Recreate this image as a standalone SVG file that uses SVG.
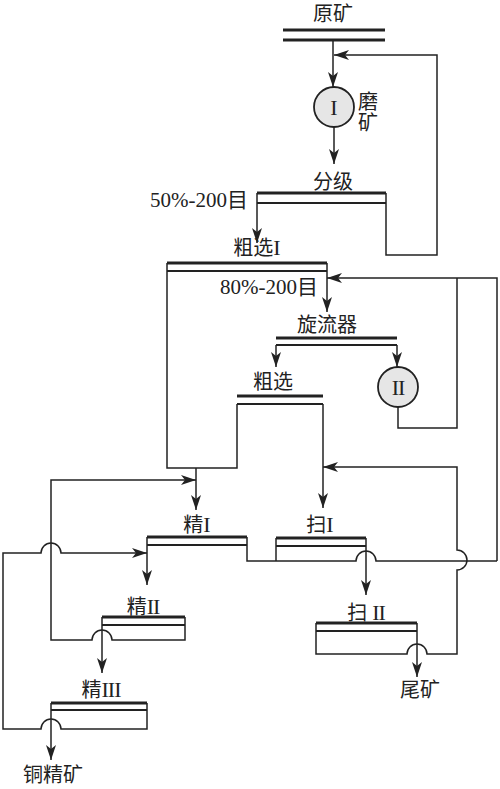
<svg xmlns="http://www.w3.org/2000/svg" width="500" height="789" viewBox="0 0 500 789">
<style>
text{font-family:"Liberation Serif","Noto Sans CJK SC",serif;font-size:20px;fill:#222;text-anchor:middle}
.big{font-size:22px}
.ln{fill:none;stroke:#222;stroke-width:1.5}
.thick{fill:none;stroke:#222;stroke-width:3}
.sec{fill:none;stroke:#222;stroke-width:1.8}
.circ{fill:#e6e6e6;stroke:#222;stroke-width:1.8}
.ar{marker-end:url(#ah)}
</style>
<defs>
<marker id="ah" markerUnits="userSpaceOnUse" markerWidth="15" markerHeight="10" refX="15" refY="5" orient="auto">
<path d="M0,0 L15,5 L0,10 L4,5 z" fill="#222"/>
</marker>
</defs>
<rect width="500" height="789" fill="#fff"/>

<g id="feed">
<text x="333" y="21">原矿</text>
<line class="thick" x1="283" y1="30" x2="385" y2="30"/>
<line class="thick" x1="283" y1="40" x2="385" y2="40"/>
</g>

<g id="mill1">
<circle class="circ" cx="334" cy="107" r="20"/>
<text class="big" x="334" y="115">I</text>
<text x="368" y="109">磨</text>
<text x="368" y="130">矿</text>
</g>

<g id="classifier">
<text x="333" y="189">分级</text>
<line class="thick" x1="257" y1="193" x2="386" y2="193"/>
<line class="sec" x1="257" y1="203" x2="386" y2="203"/>
<line class="ln" x1="257" y1="193" x2="257" y2="203"/>
<line class="ln" x1="386" y1="193" x2="386" y2="203"/>
<text x="248" y="207" style="text-anchor:end;font-size:21px">50%-200目</text>
</g>

<g id="rougher1">
<text x="257" y="255">粗选<tspan class="big">I</tspan></text>
<line class="thick" x1="167" y1="263" x2="327" y2="263"/>
<line class="sec" x1="167" y1="271" x2="327" y2="271"/>
<text x="318" y="294" style="text-anchor:end;font-size:21px">80%-200目</text>
</g>

<g id="cyclone">
<text x="327" y="332">旋流器</text>
<line class="thick" x1="276" y1="338" x2="397" y2="338"/>
<line class="sec" x1="276" y1="345" x2="397" y2="345"/>
</g>

<g id="mill2">
<circle class="circ" cx="398" cy="387" r="20"/>
<text class="big" x="398" y="395" letter-spacing="-1">II</text>
</g>

<g id="rougher">
<text x="273" y="389">粗选</text>
<line class="thick" x1="237" y1="396" x2="323" y2="396"/>
<line class="sec" x1="237" y1="404" x2="323" y2="404"/>
</g>

<g id="cleaner1">
<text x="197" y="532">精<tspan class="big">I</tspan></text>
<line class="thick" x1="147" y1="537" x2="247" y2="537"/>
<line class="sec" x1="147" y1="545" x2="247" y2="545"/>
</g>

<g id="scav1">
<text x="320" y="532">扫<tspan class="big">I</tspan></text>
<line class="thick" x1="276" y1="538" x2="366" y2="538"/>
<line class="sec" x1="276" y1="546" x2="366" y2="546"/>
</g>

<g id="cleaner2">
<text x="143" y="614">精<tspan class="big" letter-spacing="-1">II</tspan></text>
<line class="thick" x1="102" y1="617" x2="185" y2="617"/>
<line class="sec" x1="102" y1="625" x2="185" y2="625"/>
</g>

<g id="scav2">
<text x="366" y="620">扫 <tspan class="big" letter-spacing="-1">II</tspan></text>
<line class="thick" x1="316" y1="623" x2="417" y2="623"/>
<line class="sec" x1="316" y1="631" x2="417" y2="631"/>
</g>

<g id="cleaner3">
<text x="101" y="697">精<tspan class="big" letter-spacing="-1">III</tspan></text>
<line class="thick" x1="51" y1="703" x2="147" y2="703"/>
<line class="sec" x1="51" y1="710" x2="147" y2="710"/>
</g>

<g id="tailings"><text x="420" y="697">尾矿</text></g>
<g id="concentrate"><text x="53" y="782">铜精矿</text></g>

<g id="connectors">
<path class="ln ar" d="M333,40 V87"/>
<path class="ln ar" d="M386,203 V255 H437 V55 H334"/>
<path class="ln ar" d="M334,127 V164"/>
<path class="ln ar" d="M257,203 V243"/>
<path class="ln ar" d="M327,263 V312"/>
<path class="ln" d="M167,263 V468 H237 V404"/>
<path class="ln ar" d="M196,468 V510"/>
<path class="ln ar" d="M497,561 V278 H327"/>
<path class="ln" d="M398,407 V428 H457 V278"/>
<path class="ln ar" d="M276,345 V367"/>
<path class="ln ar" d="M397,345 V367"/>
<path class="ln ar" d="M323,404 V508"/>
<path class="ln ar" d="M316,623 V654 H407 A10,10 0 0 1 427,654 H457 V570 A10,10 0 0 0 457,550 V467 H323"/>
<path class="ln ar" d="M417,623 V677"/>
<path class="ln" d="M276,538 V561"/>
<path class="ln ar" d="M366,538 V595"/>
<path class="ln" d="M247,537 V561 H356 A10,10 0 0 1 376,561 H497"/>
<path class="ln ar" d="M147,537 V585"/>
<path class="ln ar" d="M147,703 V729 H61 A10,10 0 0 0 41,729 H3 V553 H41 A10,10 0 0 1 61,553 H147"/>
<path class="ln ar" d="M51,703 V760"/>
<path class="ln ar" d="M185,617 V640 H112 A10,10 0 0 0 92,640 H51 V480 H196"/>
<path class="ln ar" d="M102,617 V673"/>
</g>
</svg>
